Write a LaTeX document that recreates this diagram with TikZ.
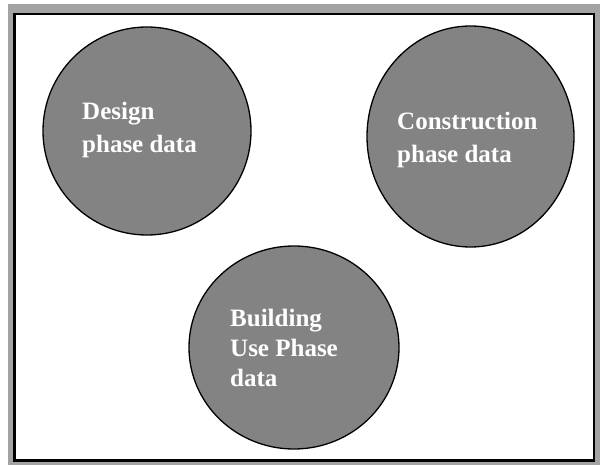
\documentclass[tikz,border=0pt]{standalone}
\usepackage{fontspec}
\setmainfont{Liberation Serif}
\definecolor{framegray}{RGB}{163,163,163}
\definecolor{discgray}{RGB}{131,131,131}
\tikzstyle{phasedisc}=[fill=discgray,draw=black,line width=1.3pt]
\tikzstyle{phasetext}=[anchor=base west,inner sep=0pt,text=white,align=left,font=\fontsize{25}{33}\selectfont\bfseries]

\begin{document}
\begin{tikzpicture}[x=1pt,y=-1pt]
    \useasboundingbox (0,0) rectangle (600,465);
    % frame
    \fill[white] (0,0) rectangle (600,465);
    \fill[framegray] (8,4) rectangle (600,465);
    \filldraw[fill=white,draw=black,line width=2.5pt] (14.5,14) rectangle (594,460.5);

    % the three data circles
    \draw[phasedisc] (147,131) ellipse (104 and 104);
    \draw[phasedisc] (470.5,136.5) ellipse (103.5 and 110.5);
    \draw[phasedisc] (294,347.5) ellipse (105 and 101.5);

    % base anchor sits on the last line
    \node[phasetext] (design) at (82,153) {Design\\phase data};
    \node[phasetext] (construction) at (397,163) {Construction\\phase data};
    \node[phasetext,font=\fontsize{25}{30}\selectfont\bfseries] (building) at (230,386) {Building\\Use Phase\\data};
\end{tikzpicture}
\end{document}
